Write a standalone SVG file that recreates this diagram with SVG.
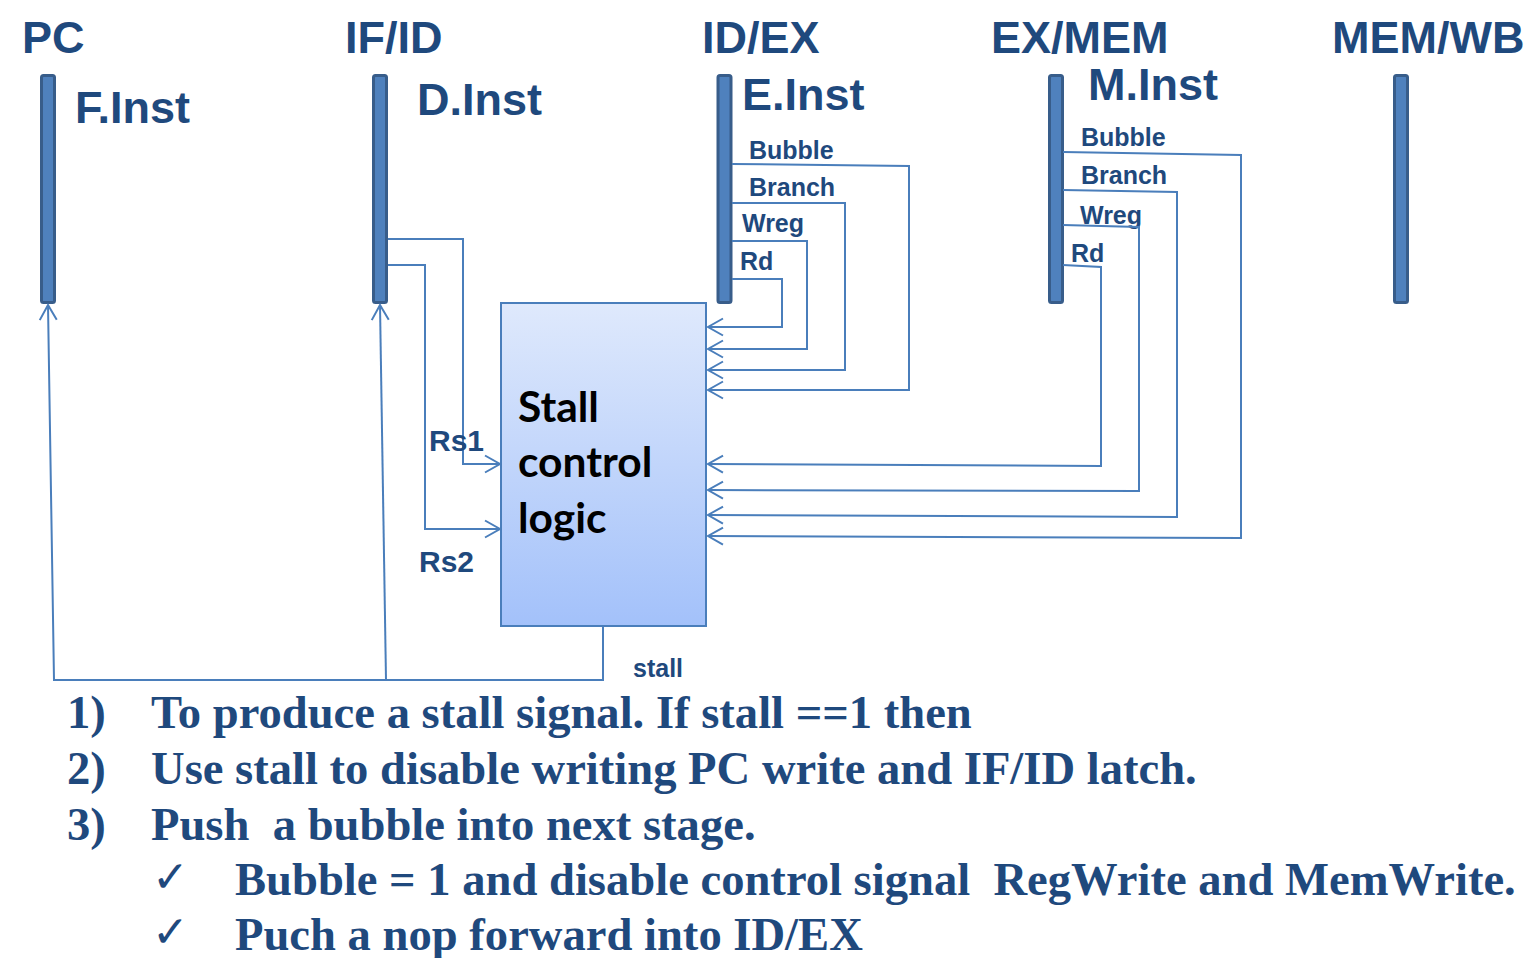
<svg xmlns="http://www.w3.org/2000/svg" width="1530" height="958" viewBox="0 0 1530 958">
<style>
.title{font-family:"Liberation Sans",Arial,sans-serif;font-weight:bold;font-size:45px;fill:#1f497d}
.sig{font-family:"Liberation Sans",Arial,sans-serif;font-weight:bold;font-size:25px;fill:#1f497d}
.rs{font-family:"Liberation Sans",Arial,sans-serif;font-weight:bold;font-size:30px;fill:#1f497d}
.box{font-family:Lato,"Open Sans",sans-serif;font-weight:bold;font-size:42.5px;fill:#000}
.body{font-family:"Liberation Serif","Times New Roman",serif;font-weight:bold;font-size:46.6px;fill:#1f497d;white-space:pre}
.chk{font-family:"DejaVu Sans",sans-serif;font-size:44px;fill:#1f497d}
.bar{fill:#4f81bd;stroke:#385d8a;stroke-width:3}
.w{fill:none;stroke:#4a7ebb;stroke-width:2}
</style>
<defs>
<linearGradient id="g" x1="0" y1="0" x2="0" y2="1">
<stop offset="0" stop-color="#dfe9fc"/>
<stop offset="1" stop-color="#a3c1fa"/>
</linearGradient>
<marker id="a" viewBox="-17 -11 19 22" refX="0" refY="0" markerWidth="19" markerHeight="22" markerUnits="userSpaceOnUse" orient="auto">
<path d="M-15,-8.5 L0,0 L-15,8.5" fill="none" stroke="#4a7ebb" stroke-width="2"/>
</marker>
</defs>
<rect width="1530" height="958" fill="#fff"/>

<g id="pc">
<text class="title" x="22" y="53">PC</text>
<rect class="bar" x="41.5" y="75.5" width="13" height="227" rx="2"/>
<text class="title" x="75" y="123">F.Inst</text>
</g>
<g id="ifid">
<text class="title" x="345" y="53">IF/ID</text>
<rect class="bar" x="373.5" y="75.5" width="13" height="227" rx="2"/>
<text class="title" x="417" y="115">D.Inst</text>
</g>
<g id="idex">
<text class="title" x="702" y="53">ID/EX</text>
<rect class="bar" x="718" y="75.5" width="13" height="227" rx="2"/>
<text class="title" x="742" y="110">E.Inst</text>
<text class="sig" x="749" y="159">Bubble</text>
<text class="sig" x="749" y="196">Branch</text>
<text class="sig" x="742" y="232">Wreg</text>
<text class="sig" x="740" y="270">Rd</text>
</g>
<g id="exmem">
<text class="title" x="991" y="53">EX/MEM</text>
<rect class="bar" x="1049.5" y="75.5" width="13" height="227" rx="2"/>
<text class="title" x="1088" y="100">M.Inst</text>
<text class="sig" x="1081" y="146">Bubble</text>
<text class="sig" x="1081" y="184">Branch</text>
<text class="sig" x="1080" y="224">Wreg</text>
<text class="sig" x="1071" y="262">Rd</text>
</g>
<g id="memwb">
<text class="title" x="1332" y="53">MEM/WB</text>
<rect class="bar" x="1394.5" y="75.5" width="13" height="227" rx="2"/>
</g>
<g id="stallctl">
<rect x="501" y="303" width="205" height="323" fill="url(#g)" stroke="#4a7ebb" stroke-width="2"/>
<text class="box" x="518" y="422">Stall</text>
<text class="box" x="518" y="477">control</text>
<text class="box" x="518" y="533">logic</text>
</g>

<g id="connectors">
<polyline class="w" points="732,279 782,279 782,327 708,327" marker-end="url(#a)"/>
<polyline class="w" points="732,241 807,241 807,349 708,349" marker-end="url(#a)"/>
<polyline class="w" points="732,203 845,203 845,370 708,370" marker-end="url(#a)"/>
<polyline class="w" points="732,164 909,166 909,390 708,390" marker-end="url(#a)"/>
<polyline class="w" points="1063,265 1101,267 1101,466 708,464" marker-end="url(#a)"/>
<polyline class="w" points="1063,225 1139,227 1139,491 708,490" marker-end="url(#a)"/>
<polyline class="w" points="1063,190 1177,192 1177,517 708,515" marker-end="url(#a)"/>
<polyline class="w" points="1063,152 1241,155 1241,538 708,536" marker-end="url(#a)"/>
<polyline class="w" points="388,239 463,239 463,464 500,464" marker-end="url(#a)"/>
<polyline class="w" points="388,265 425,265 425,529 500,529" marker-end="url(#a)"/>
<polyline class="w" points="603,627 603,680 54,680 48,305" marker-end="url(#a)"/>
<polyline class="w" points="386,680 380,305" marker-end="url(#a)"/>
<text class="rs" x="429" y="451">Rs1</text>
<text class="rs" x="419" y="572">Rs2</text>
<text class="sig" x="633" y="677">stall</text>
</g>

<g id="notes">
<text class="body" x="67" y="728">1)</text>
<text class="body" x="151" y="728">To produce a stall signal. If stall ==1 then</text>
<text class="body" x="67" y="784">2)</text>
<text class="body" x="151" y="784">Use stall to disable writing PC write and IF/ID latch.</text>
<text class="body" x="67" y="840">3)</text>
<text class="body" x="151" y="840">Push  a bubble into next stage.</text>
<text class="chk" x="152" y="892">✓</text>
<text class="body" x="235" y="895">Bubble = 1 and disable control signal  RegWrite and MemWrite.</text>
<text class="chk" x="152" y="947">✓</text>
<text class="body" x="235" y="950">Puch a nop forward into ID/EX</text>
</g>
</svg>
